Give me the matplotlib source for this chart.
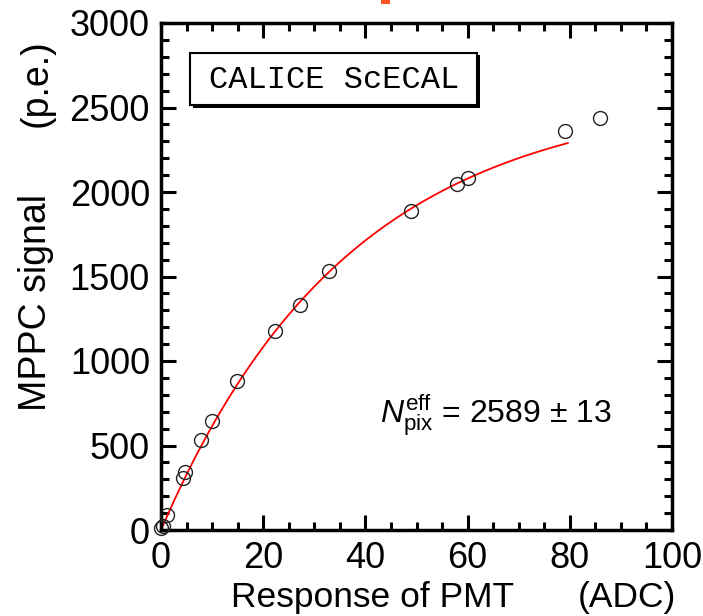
import numpy as np
import matplotlib.pyplot as plt
from matplotlib.patches import Rectangle
from matplotlib.ticker import MultipleLocator

plt.rcParams['font.family'] = ['Liberation Sans', 'DejaVu Sans']
plt.rcParams['mathtext.fontset'] = 'custom'
plt.rcParams['mathtext.rm'] = 'Liberation Sans'
plt.rcParams['mathtext.it'] = 'Liberation Sans:italic'

# Measured points: PMT response (ADC) vs MPPC signal (p.e.)
pmt_adc = [0.0, 0.4, 1.2, 4.3, 4.7, 7.8, 10.0, 14.9, 22.3, 27.2, 32.9, 48.9, 57.9, 60.1, 79.1, 85.9]
mppc_pe = [12, 24, 89, 308, 343, 533, 645, 882, 1178, 1331, 1533, 1888, 2047, 2083, 2361, 2438]

# Saturation fit parameters
n_pix_eff = 2589
n_pix_err = 13
fit_slope = 0.0271   # 1/ADC
fit_xmax = 79.6

fig = plt.figure(figsize=(7.03, 6.16), dpi=100)
ax = fig.add_axes([161/703, 86/616, 511/703, 507/616])

# fit curve
xf = np.linspace(0, fit_xmax, 300)
yf = n_pix_eff * (1 - np.exp(-fit_slope * xf))
ax.plot(xf, yf, color='red', lw=1.3, zorder=2)

# data
ax.plot(pmt_adc, mppc_pe, 'o', mfc='none', mec='#222222', mew=1.0, ms=10, zorder=3,
        clip_on=False)

ax.set_xlim(0, 100)
ax.set_ylim(0, 3000)
ax.xaxis.set_major_locator(MultipleLocator(20))
ax.xaxis.set_minor_locator(MultipleLocator(5))
ax.yaxis.set_major_locator(MultipleLocator(500))
ax.yaxis.set_minor_locator(MultipleLocator(100))
ax.tick_params(which='both', direction='in', top=True, right=True, width=2.2,
               labelsize=26, pad=8)
ax.tick_params(which='major', length=11)
ax.tick_params(which='minor', length=6)
for s in ax.spines.values():
    s.set_linewidth(2.5)

# labels
fig.text(36/703, 1 - 303/616, 'MPPC signal', rotation=90, ha='center', va='center', fontsize=27)
fig.text(37/703, 1 - 83/616, '(p.e.)', rotation=90, ha='center', va='center', fontsize=27)
fig.text(373/703, 1 - 597/616, 'Response of PMT', ha='center', va='center', fontsize=25.5)
fig.text(627/703, 1 - 597/616, '(ADC)', ha='center', va='center', fontsize=25.5)

# CALICE box with shadow
shadow = Rectangle((193/703, 1 - 108/616), 287/703, 53/616, transform=fig.transFigure,
                   facecolor='black', edgecolor='none', zorder=4)
box = Rectangle((190/703, 1 - 105/616), 287/703, 52/616, transform=fig.transFigure,
                facecolor='white', edgecolor='black', lw=1.5, zorder=5)
fig.add_artist(shadow)
fig.add_artist(box)
fig.text(334/703, 1 - 80/616, 'CALICE ScECAL', family='Liberation Mono', fontsize=23,
         ha='center', va='center', zorder=6)

ax.text(0.429, 0.213, r'$N_{\mathrm{pix}}^{\mathrm{eff}}$ = %d ± %d' % (n_pix_eff, n_pix_err),
        transform=ax.transAxes, fontsize=23, ha='left', va='baseline')

# cropped orange mark at the top edge
fig.add_artist(Rectangle((381/703, 1 - 4/616), 9/703, 4/616, transform=fig.transFigure,
                         facecolor='#ff5522', edgecolor='none'))

fig.savefig('out.png', dpi=100)
